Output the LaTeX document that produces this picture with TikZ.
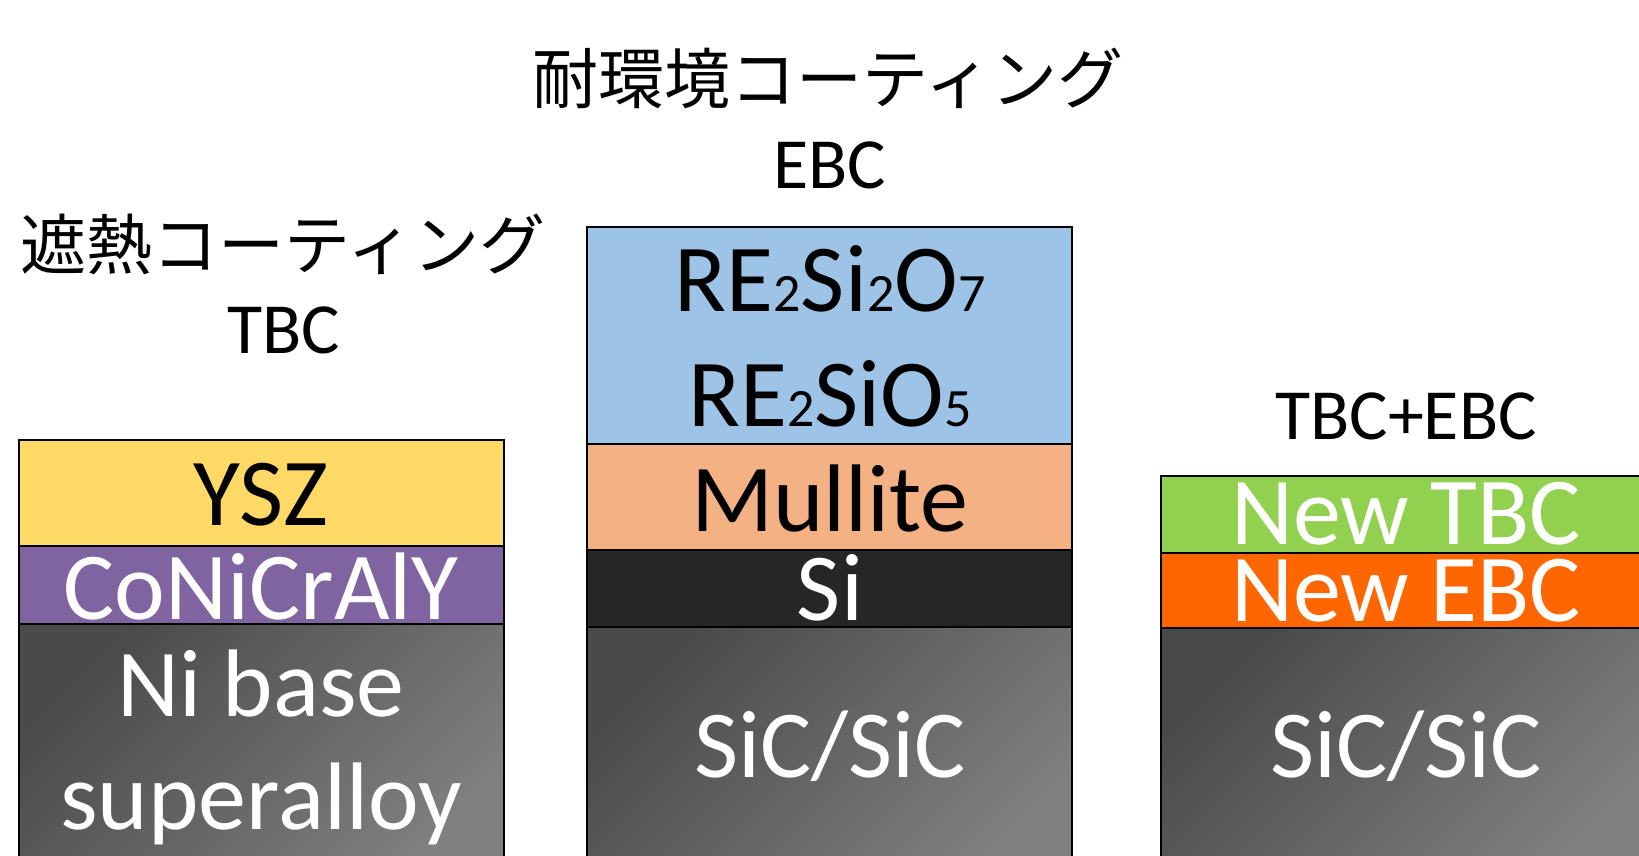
\documentclass[tikz,border=0pt]{standalone}
\usepackage{fontspec}
\setmainfont{Carlito}
\newfontfamily\jpfont{Noto Sans CJK JP}
\definecolor{yszc}{HTML}{FFD966}
\definecolor{bondc}{HTML}{8064A2}
\definecolor{rec}{HTML}{9DC3E6}
\definecolor{mulc}{HTML}{F4B183}
\definecolor{sic}{HTML}{262626}
\definecolor{ntbcc}{HTML}{92D050}
\definecolor{nebcc}{HTML}{FF6600}
\definecolor{grayA}{HTML}{4A4A4A}
\definecolor{grayB}{HTML}{808080}
\newcommand{\lsub}[1]{{\fontsize{54}{54}\selectfont #1}}
\begin{document}
\begin{tikzpicture}[x=1pt,y=-1pt,
  layerbox/.style={draw=black, line width=2pt, anchor=north west, minimum width=485pt, inner sep=0pt, outer sep=0pt},
  subbox/.style={layerbox, top color=grayA, bottom color=grayB, shading angle=45},
  lbl/.style={anchor=base, inner sep=0pt, font=\fontsize{96}{110}\selectfont},
  head/.style={anchor=base, inner sep=0pt, font=\fontsize{72}{80}\selectfont},
  jhead/.style={anchor=base, inner sep=0pt, font=\jpfont\fontsize{66}{70}\selectfont}]
\useasboundingbox (0,0) rectangle (1639,855);
\clip (0,0) rectangle (1639,855);
\fill[white] (0,0) rectangle (1639,855);
% left stack
\node[subbox, minimum height=260pt] (ni) at (19,624) {};
\node[layerbox, fill=bondc, minimum height=78pt] (bc) at (19,546) {};
\node[layerbox, fill=yszc, minimum height=106pt] (ysz) at (19,440) {};
% middle stack
\node[subbox, minimum height=260pt] (sic1) at (587,627) {};
\node[layerbox, fill=sic, minimum height=77pt] (si) at (587,550) {};
\node[layerbox, fill=mulc, minimum height=106pt] (mul) at (587,444) {};
\node[layerbox, fill=rec, minimum height=217pt] (re) at (587,227) {};
% right stack
\node[subbox, minimum height=260pt] (sic2) at (1161,628) {};
\node[layerbox, fill=nebcc, minimum height=75pt] (ne) at (1161,553) {};
\node[layerbox, fill=ntbcc, minimum height=77pt] (nt) at (1161,476) {};
% labels
\node[lbl] (tysz) at (261,525) {YSZ};
\node[lbl, text=white] (tbc) at (261,619) {CoNiCrAlY};
\node[lbl, text=white] (tni1) at (261,716) {Ni base};
\node[lbl, text=white] (tni2) at (261,829) {superalloy};
\node[lbl] (tre1) at (830,311) {RE\lsub{2}Si\lsub{2}O\lsub{7}};
\node[lbl] (tre2) at (830,426) {RE\lsub{2}SiO\lsub{5}};
\node[lbl] (tmul) at (830,531) {Mullite};
\node[lbl, text=white] (tsi) at (830,620) {Si};
\node[lbl, text=white] (tsic1) at (830,777) {SiC/SiC};
\node[lbl, text=white] (tnt) at (1406,544) {New TBC};
\node[lbl, text=white] (tne) at (1406,621) {New EBC};
\node[lbl, text=white] (tsic2) at (1406,777) {SiC/SiC};
% headings
\node[jhead] (hebcj) at (828,103) {耐環境コーティング};
\node[head] (hebc) at (830,188) {EBC};
\node[jhead] (htbcj) at (283,269) {遮熱コーティング};
\node[head] (htbc) at (284,353) {TBC};
\node[head] (hboth) at (1406,439) {TBC+EBC};
\end{tikzpicture}
\end{document}
